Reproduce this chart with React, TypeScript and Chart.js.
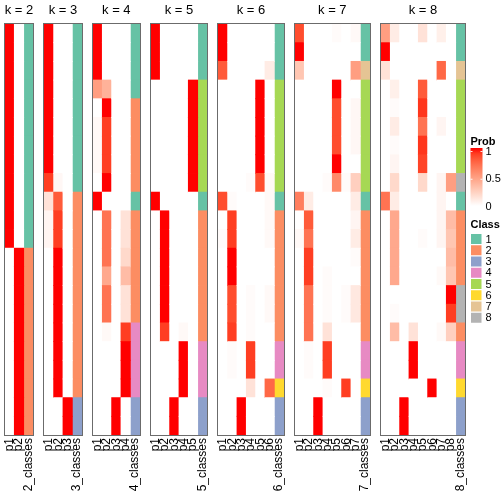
import React, { useEffect, useRef } from "react";
import { Chart, registerables } from "chart.js";
Chart.register(...registerables);

const FONT = "'Liberation Sans', Arial, Helvetica, sans-serif";
const NROWS = 22;
const kValues = [2, 3, 4, 5, 6, 7, 8];
const classColors = ["#66C2A5", "#FC8D62", "#8DA0CB", "#E78AC3", "#A6D854", "#FFD92F", "#E5C494", "#B3B3B3"];
const classLabels = ["1", "2", "3", "4", "5", "6", "7", "8"];
const probTickValues = [1, 0.5, 0];
const probTickLabels = ["1", "0.5", "0"];

// membership probabilities, one array per column (22 samples each)
const probK2 = [
  [1, 1, 1, 1, 1, 1, 1, 1, 1, 1, 1, 1, 0, 0, 0, 0, 0, 0, 0, 0, 0, 0],
  [0, 0, 0, 0, 0, 0, 0, 0, 0, 0, 0, 0, 1, 1, 1, 1, 1, 1, 1, 1, 1, 1],
];
const classK2 = [1, 1, 1, 1, 1, 1, 1, 1, 1, 1, 1, 1, 2, 2, 2, 2, 2, 2, 2, 2, 2, 2];

const probK3 = [
  [1, 1, 1, 1, 1, 1, 1, 1, 0.9, 0.15, 0.05, 0.05, 0, 0, 0, 0, 0, 0, 0, 0, 0, 0],
  [0, 0, 0, 0, 0, 0, 0, 0, 0.04, 0.8, 0.9, 0.9, 1, 1, 1, 1, 1, 1, 1, 1, 0, 0],
  [0, 0, 0, 0, 0, 0, 0, 0, 0, 0, 0, 0, 0, 0, 0, 0, 0, 0, 0, 0, 1, 1],
];
const classK3 = [1, 1, 1, 1, 1, 1, 1, 1, 1, 2, 2, 2, 2, 2, 2, 2, 2, 2, 2, 2, 3, 3];

const probK4 = [
  [1, 1, 1, 0.5, 0, 0.03, 0.03, 0.03, 0, 1, 0, 0, 0, 0, 0, 0, 0, 0, 0, 0, 0, 0],
  [0, 0, 0, 0.4, 1, 0.9, 0.9, 0.9, 1, 0, 0.7, 0.7, 0.7, 0.45, 0.7, 0.7, 0.03, 0, 0, 0, 0, 0],
  [0, 0, 0, 0, 0, 0, 0, 0, 0, 0, 0, 0, 0, 0, 0, 0, 0, 0, 0, 0, 1, 1],
  [0, 0, 0, 0, 0, 0, 0, 0, 0, 0, 0.15, 0.15, 0.2, 0.35, 0.15, 0.15, 0.9, 1, 1, 1, 0, 0],
];
const classK4 = [1, 1, 1, 1, 2, 2, 2, 2, 2, 1, 2, 2, 2, 2, 2, 2, 4, 4, 4, 4, 3, 3];

const probK5 = [
  [1, 1, 1, 0, 0, 0, 0, 0, 0, 1, 0, 0, 0, 0, 0, 0, 0, 0, 0, 0, 0, 0],
  [0, 0, 0, 0, 0, 0, 0, 0, 0, 0, 1, 1, 1, 1, 1, 1, 0.9, 0, 0, 0, 0, 0],
  [0, 0, 0, 0, 0, 0, 0, 0, 0, 0, 0, 0, 0, 0, 0, 0, 0, 0, 0, 0, 1, 1],
  [0, 0, 0, 0, 0, 0, 0, 0, 0, 0, 0, 0, 0, 0, 0, 0, 0.03, 1, 1, 1, 0, 0],
  [0, 0, 0, 1, 1, 1, 1, 1, 1, 0, 0, 0, 0, 0, 0, 0, 0, 0, 0, 0, 0, 0],
];
const classK5 = [1, 1, 1, 5, 5, 5, 5, 5, 5, 1, 2, 2, 2, 2, 2, 2, 2, 4, 4, 4, 3, 3];

const probK6 = [
  [1, 1, 0.8, 0, 0, 0, 0, 0, 0, 0.85, 0, 0.02, 0, 0, 0, 0, 0, 0, 0, 0, 0, 0],
  [0, 0, 0, 0, 0, 0, 0, 0, 0, 0.02, 0.9, 0.9, 1, 1, 0.85, 0.85, 0.9, 0.02, 0.02, 0, 0, 0],
  [0, 0, 0, 0, 0, 0, 0, 0, 0, 0, 0, 0, 0, 0, 0, 0, 0, 0, 0, 0, 1, 1],
  [0, 0, 0, 0, 0, 0, 0, 0, 0.02, 0, 0, 0, 0, 0, 0.02, 0.02, 0.02, 0.9, 0.9, 0.15, 0, 0],
  [0, 0, 0, 1, 1, 1, 1, 1, 0.85, 0, 0, 0, 0, 0, 0, 0, 0, 0, 0, 0, 0, 0],
  [0, 0, 0.1, 0, 0, 0, 0, 0, 0.03, 0.03, 0.03, 0.03, 0, 0, 0.03, 0.03, 0, 0, 0, 0.75, 0, 0],
];
const classK6 = [1, 1, 1, 5, 5, 5, 5, 5, 5, 1, 2, 2, 2, 2, 2, 2, 2, 4, 4, 6, 3, 3];

const probK7 = [
  [0.85, 1, 0.3, 0, 0, 0, 0, 0, 0, 0.65, 0, 0.03, 0, 0, 0, 0, 0, 0, 0, 0, 0, 0],
  [0, 0, 0, 0, 0, 0, 0, 0, 0, 0.1, 0.8, 0.7, 0.9, 0.9, 0.7, 0.7, 0.7, 0.02, 0.02, 0, 0, 0],
  [0, 0, 0, 0, 0, 0, 0, 0, 0, 0, 0, 0, 0, 0, 0, 0, 0, 0, 0, 0, 1, 1],
  [0, 0, 0, 0, 0, 0, 0, 0, 0.02, 0, 0, 0, 0, 0.02, 0.02, 0.02, 0.15, 0.9, 0.9, 0.02, 0, 0],
  [0.02, 0, 0, 1, 0.85, 0.85, 0.85, 1, 0.6, 0, 0, 0, 0, 0, 0, 0, 0, 0, 0, 0, 0, 0],
  [0, 0, 0, 0, 0, 0, 0, 0, 0.02, 0, 0, 0, 0, 0, 0.02, 0.02, 0, 0, 0, 0.9, 0, 0],
  [0.03, 0, 0.5, 0, 0.04, 0.04, 0.04, 0, 0.25, 0.1, 0.05, 0.1, 0.02, 0, 0.12, 0.12, 0, 0, 0, 0, 0, 0],
];
const classK7 = [1, 1, 7, 5, 5, 5, 5, 5, 5, 1, 2, 2, 2, 2, 2, 2, 2, 4, 4, 6, 3, 3];

const probK8 = [
  [0.5, 1, 0.15, 0, 0, 0, 0, 0, 0, 0.7, 0, 0, 0, 0, 0, 0, 0, 0, 0, 0, 0, 0],
  [0.1, 0, 0, 0.08, 0.02, 0.1, 0.02, 0.05, 0.2, 0.1, 0.45, 0.45, 0.45, 0.45, 0, 0.02, 0.35, 0, 0, 0, 0, 0],
  [0, 0, 0, 0, 0, 0, 0, 0, 0, 0, 0, 0, 0, 0, 0, 0, 0, 0, 0, 0, 1, 1],
  [0, 0, 0, 0, 0, 0, 0, 0, 0, 0, 0, 0, 0, 0, 0, 0, 0.15, 1, 1, 0, 0, 0],
  [0.15, 0, 0, 0.8, 0.92, 0.7, 0.92, 0.88, 0.2, 0, 0, 0.02, 0, 0, 0, 0, 0, 0, 0, 0, 0, 0],
  [0, 0, 0, 0, 0, 0, 0, 0, 0, 0, 0, 0, 0, 0, 0, 0, 0, 0, 0, 1, 0, 0],
  [0.08, 0, 0.75, 0, 0, 0.05, 0, 0, 0.05, 0.05, 0.05, 0.05, 0, 0.03, 0, 0, 0.03, 0, 0, 0, 0, 0],
  [0, 0, 0, 0, 0, 0, 0, 0, 0.5, 0, 0.35, 0.3, 0.35, 0.3, 1, 0.9, 0.25, 0, 0, 0, 0, 0],
];
const classK8 = [1, 1, 7, 5, 5, 5, 5, 5, 8, 1, 2, 2, 2, 2, 8, 8, 2, 4, 4, 6, 3, 3];

const probPanels = [probK2, probK3, probK4, probK5, probK6, probK7, probK8];
const classPanels = [classK2, classK3, classK4, classK5, classK6, classK7, classK8];

// white -> red interpolation in CIE Lab
const WHITE_LAB = [100, 0, 0];
const RED_LAB = [53.2408, 80.0925, 67.2032];
function labToHex(L: number, a: number, b: number): string {
  const fy = (L + 16) / 116;
  const fx = fy + a / 500;
  const fz = fy - b / 200;
  const inv = (t: number) => (t * t * t > 0.008856 ? t * t * t : (t - 16 / 116) / 7.787);
  const X = 0.95047 * inv(fx);
  const Y = 1.0 * inv(fy);
  const Z = 1.08883 * inv(fz);
  const lin = [
    3.2406 * X - 1.5372 * Y - 0.4986 * Z,
    -0.9689 * X + 1.8758 * Y + 0.0415 * Z,
    0.0557 * X - 0.204 * Y + 1.057 * Z,
  ];
  const g = lin.map((c) => {
    const v = c <= 0.0031308 ? 12.92 * c : 1.055 * Math.pow(Math.max(c, 0), 1 / 2.4) - 0.055;
    return Math.round(Math.min(1, Math.max(0, v)) * 255);
  });
  return "#" + g.map((v) => v.toString(16).padStart(2, "0")).join("");
}
function probColor(t: number): string {
  return labToHex(
    WHITE_LAB[0] + (RED_LAB[0] - WHITE_LAB[0]) * t,
    WHITE_LAB[1] + (RED_LAB[1] - WHITE_LAB[1]) * t,
    WHITE_LAB[2] + (RED_LAB[2] - WHITE_LAB[2]) * t
  );
}

const GAP = 1.214; // gap between panels in column units

export default function App() {
  const ref = useRef<HTMLCanvasElement | null>(null);
  useEffect(() => {
    if (!ref.current) return;
    const panelStarts: number[] = [];
    let cursor = 0;
    kValues.forEach((k, j) => {
      panelStarts.push(cursor);
      cursor += k + 1 + (j < kValues.length - 1 ? GAP : 0);
    });
    const totalUnits = cursor;
    const tickValues: number[] = [];
    const tickLabels: string[] = [];
    const cellData: any[] = [];
    const cellColors: string[] = [];
    const classData: any[] = [];
    const classCellColors: string[] = [];
    kValues.forEach((k, j) => {
      const probs = probPanels[j];
      const cls = classPanels[j];
      probs.forEach((col, c) => {
        const xv = panelStarts[j] + c + 0.5;
        tickValues.push(xv);
        tickLabels.push("p" + (c + 1));
        col.forEach((v, r) => {
          cellData.push({ x: xv, y: [r, r + 1] });
          cellColors.push(probColor(v));
        });
      });
      const xc = panelStarts[j] + k + 0.5;
      tickValues.push(xc);
      tickLabels.push(k + "_classes");
      cls.forEach((v, r) => {
        classData.push({ x: xc, y: [r, r + 1] });
        classCellColors.push(classColors[v - 1]);
      });
    });

    const decor = {
      id: "decor",
      afterDatasetsDraw(chart: any) {
        const ctx = chart.ctx;
        const xs = chart.scales.x;
        const ca = chart.chartArea;
        ctx.save();
        kValues.forEach((k, j) => {
          const x0 = xs.getPixelForValue(panelStarts[j]);
          const x1 = xs.getPixelForValue(panelStarts[j] + k + 1);
          ctx.strokeStyle = "#6b6b6b";
          ctx.lineWidth = 1;
          ctx.strokeRect(Math.round(x0) - 0.5, Math.round(ca.top) - 0.5, Math.round(x1) - Math.round(x0) + 1, Math.round(ca.bottom - ca.top) + 1);
          ctx.fillStyle = "#000";
          ctx.font = "13px " + FONT;
          ctx.textAlign = "center";
          ctx.textBaseline = "alphabetic";
          ctx.fillText("k = " + k, (x0 + x1) / 2, ca.top - 10);
        });
        // Prob legend
        const lx = ca.right + 5.5;
        ctx.textAlign = "left";
        ctx.fillStyle = "#000";
        ctx.font = "bold 11px " + FONT;
        ctx.fillText("Prob", lx, 145);
        const gTop = 148, gBot = 206, gW = 12;
        const grad = ctx.createLinearGradient(0, gBot, 0, gTop);
        for (let i = 0; i <= 10; i++) grad.addColorStop(i / 10, probColor(i / 10));
        ctx.fillStyle = grad;
        ctx.fillRect(lx, gTop, gW, gBot - gTop);
        ctx.font = "11px " + FONT;
        ctx.textBaseline = "middle";
        probTickValues.forEach((v, i) => {
          const y = 207 - v * 55.5;
          ctx.strokeStyle = "rgba(255,255,255,0.9)";
          ctx.beginPath();
          ctx.moveTo(lx, y); ctx.lineTo(lx + 2, y);
          ctx.moveTo(lx + gW - 2, y); ctx.lineTo(lx + gW, y);
          ctx.stroke();
          ctx.fillStyle = "#000";
          ctx.fillText(probTickLabels[i], lx + 15, y);
        });
        // Class legend
        ctx.font = "bold 11px " + FONT;
        ctx.textBaseline = "alphabetic";
        ctx.fillText("Class", lx, 228);
        ctx.font = "11px " + FONT;
        ctx.textBaseline = "middle";
        classLabels.forEach((lab, i) => {
          const y = 234 + i * 11.25;
          ctx.fillStyle = classColors[i];
          ctx.fillRect(lx + 0.5, y, 10.5, 10);
          ctx.fillStyle = "#000";
          ctx.fillText(lab, lx + 15, y + 5.5);
        });
        ctx.restore();
      },
    };

    const chart = new Chart(ref.current, {
      type: "bar",
      data: {
        datasets: [
          { label: "Prob", data: cellData, backgroundColor: cellColors, borderWidth: 0, inflateAmount: 0.4 } as any,
          { label: "Class", data: classData, backgroundColor: classCellColors, borderWidth: 0, inflateAmount: 0.4 } as any,
        ],
      },
      options: {
        responsive: false,
        animation: false,
        events: [],
        layout: { padding: { left: 5, right: 39, top: 24, bottom: 0 } },
        datasets: { bar: { barPercentage: 1, categoryPercentage: 1, grouped: false } } as any,
        plugins: { legend: { display: false }, tooltip: { enabled: false }, title: { display: false } },
        scales: {
          x: {
            type: "linear",
            offset: false,
            min: 0,
            max: totalUnits,
            grid: { display: false, drawTicks: false },
            border: { display: false },
            afterBuildTicks: (s: any) => {
              s.ticks = tickValues.map((v) => ({ value: v }));
            },
            afterFit: (s: any) => {
              s.height = 69;
              s.paddingLeft = 0;
              s.paddingRight = 0;
            },
            ticks: {
              autoSkip: false,
              minRotation: 90,
              maxRotation: 90,
              padding: 3,
              color: "#000",
              font: { size: 12, family: FONT },
              callback: (_v: any, i: number) => tickLabels[i],
            },
          } as any,
          y: { type: "linear", offset: false, min: 0, max: NROWS, reverse: true, display: false },
        },
      },
      plugins: [decor],
    });
    return () => chart.destroy();
  }, []);
  return (
    <div style={{ position: "fixed", left: 0, top: 0, width: 504, height: 504, background: "#fff" }}>
      <canvas ref={ref} width={504} height={504} style={{ display: "block" }} />
    </div>
  );
}
